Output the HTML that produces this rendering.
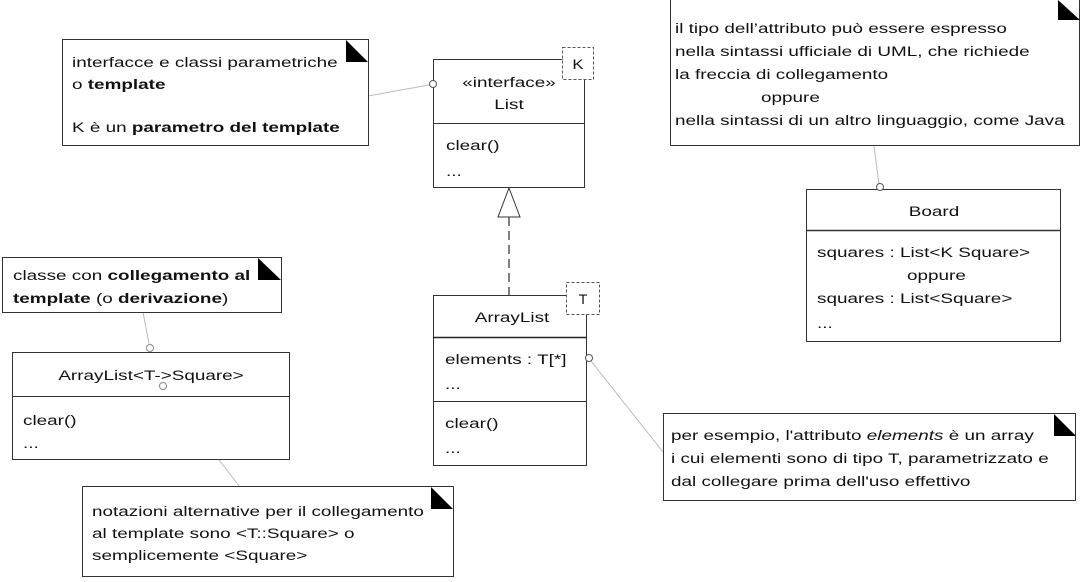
<!DOCTYPE html>
<html><head><meta charset="utf-8"><style>
html,body{margin:0;padding:0;background:#fff;}
svg{display:block;}
text{font-family:"Liberation Sans",sans-serif;font-size:14px;fill:#111;}
.b{font-weight:bold;}
</style></head><body>
<svg width="1080" height="582" viewBox="0 0 1080 582">
<g stroke="#bbb" stroke-width="1" fill="none">
<line x1="368" y1="96" x2="429" y2="85"/>
<line x1="143" y1="312" x2="149" y2="344"/>
<line x1="165" y1="390" x2="240" y2="487"/>
<line x1="591" y1="361" x2="663" y2="452"/>
<line x1="874" y1="146" x2="879" y2="184"/>
</g>
<!-- Note 1 -->
<rect x="62.5" y="39.5" width="306" height="106" fill="#fff" stroke="#333"/>
<polygon points="346,40 368,62 346,62" fill="#000"/>
<text transform="translate(72,67) scale(1.35,1)">interfacce e classi parametriche</text>
<text transform="translate(72,89) scale(1.35,1)">o <tspan class="b">template</tspan></text>
<text transform="translate(72,132) scale(1.35,1)">K è un <tspan class="b">parametro del template</tspan></text>
<!-- List -->
<rect x="433.5" y="59.5" width="151" height="128" fill="#fff" stroke="#333"/>
<line x1="433" y1="123.5" x2="584" y2="123.5" stroke="#333"/>
<rect x="562.5" y="47.5" width="31" height="32" fill="#fff" stroke="#555" stroke-dasharray="3,2"/>
<text x="578" y="69" text-anchor="middle" transform="translate(578,0) scale(1.2,1) translate(-578,0)">K</text>
<text transform="translate(509,87) scale(1.35,1)" text-anchor="middle">«interface»</text>
<text transform="translate(509,109) scale(1.35,1)" text-anchor="middle">List</text>
<text transform="translate(446,150) scale(1.35,1)">clear()</text>
<text transform="translate(446,176) scale(1.35,1)">...</text>
<circle cx="433" cy="84" r="3.5" fill="#fff" stroke="#555"/>
<!-- generalization -->
<polygon points="509,188 498,217 520,217" fill="#fff" stroke="#333"/>
<line x1="509" y1="217" x2="509" y2="295" stroke="#555" stroke-width="1.5" stroke-dasharray="9,5"/>
<!-- ArrayList -->
<rect x="433.5" y="295.5" width="153" height="170" fill="#fff" stroke="#333"/>
<line x1="433" y1="337.5" x2="587" y2="337.5" stroke="#222" stroke-width="1.5"/>
<line x1="433" y1="401.5" x2="587" y2="401.5" stroke="#333"/>
<rect x="566.5" y="282.5" width="33" height="32" fill="#fff" stroke="#555" stroke-dasharray="3,2"/>
<text x="583" y="304" text-anchor="middle">T</text>
<text transform="translate(512,322) scale(1.35,1)" text-anchor="middle">ArrayList</text>
<text transform="translate(445,364) scale(1.35,1)">elements : T[*]</text>
<text transform="translate(445,389) scale(1.35,1)">...</text>
<text transform="translate(445,428) scale(1.35,1)">clear()</text>
<text transform="translate(445,453) scale(1.35,1)">...</text>
<circle cx="589" cy="358" r="3.5" fill="#fff" stroke="#555"/>
<!-- Note 2 -->
<rect x="2.5" y="257.5" width="279" height="55" fill="#fff" stroke="#333"/>
<polygon points="258,258 281,280 258,280" fill="#000"/>
<text transform="translate(13,280) scale(1.35,1)">classe con <tspan class="b">collegamento al</tspan></text>
<text transform="translate(13,303) scale(1.35,1)"><tspan class="b">template</tspan> (o <tspan class="b">derivazione</tspan>)</text>
<!-- ArrayList<T->Square> -->
<rect x="12.5" y="352.5" width="277" height="107" fill="#fff" stroke="#333"/>
<line x1="12" y1="396.5" x2="289" y2="396.5" stroke="#333"/>
<text transform="translate(151,380) scale(1.35,1)" text-anchor="middle">ArrayList&lt;T-&gt;Square&gt;</text>
<text transform="translate(23,425) scale(1.35,1)">clear()</text>
<text transform="translate(23,448) scale(1.35,1)">...</text>
<circle cx="150" cy="348" r="3.5" fill="#fff" stroke="#888"/>
<circle cx="163" cy="386" r="3.5" fill="none" stroke="#888"/>
<!-- Note 3 -->
<rect x="82.5" y="486.5" width="371" height="90" fill="#fff" stroke="#333"/>
<polygon points="431,487 453,509 431,509" fill="#000"/>
<text transform="translate(92,516) scale(1.35,1)">notazioni alternative per il collegamento</text>
<text transform="translate(92,538) scale(1.35,1)">al template sono &lt;T::Square&gt; o</text>
<text transform="translate(92,560) scale(1.35,1)">semplicemente &lt;Square&gt;</text>
<!-- Note TR -->
<rect x="670.5" y="-1" width="409" height="146.5" fill="#fff" stroke="#333"/>
<polygon points="1058,0 1080,20 1058,20" fill="#000"/>
<text transform="translate(675,33) scale(1.35,1)">il tipo dell’attributo può essere espresso</text>
<text transform="translate(675,56) scale(1.35,1)">nella sintassi ufficiale di UML, che richiede</text>
<text transform="translate(675,79) scale(1.35,1)">la freccia di collegamento</text>
<text transform="translate(761,102) scale(1.35,1)">oppure</text>
<text transform="translate(675,125) scale(1.35,1)">nella sintassi di un altro linguaggio, come Java</text>
<!-- Board -->
<rect x="806.5" y="189.5" width="254" height="152" fill="#fff" stroke="#333"/>
<line x1="806" y1="230.5" x2="1060" y2="230.5" stroke="#333" stroke-width="1.5"/>
<text transform="translate(934,216) scale(1.35,1)" text-anchor="middle">Board</text>
<text transform="translate(817,257) scale(1.35,1)">squares : List&lt;K   Square&gt;</text>
<text transform="translate(907,280) scale(1.35,1)">oppure</text>
<text transform="translate(817,303) scale(1.35,1)">squares : List&lt;Square&gt;</text>
<text transform="translate(817,328) scale(1.35,1)">...</text>
<circle cx="880" cy="187" r="3.5" fill="#fff" stroke="#555"/>
<!-- Note right -->
<rect x="663.5" y="413.5" width="412" height="87" fill="#fff" stroke="#333"/>
<polygon points="1054,414 1076,436 1054,436" fill="#000"/>
<text transform="translate(671,440) scale(1.35,1)">per esempio, l'attributo <tspan font-style="italic">elements</tspan> è un array</text>
<text transform="translate(671,463) scale(1.35,1)">i cui elementi sono di tipo T, parametrizzato e</text>
<text transform="translate(671,486) scale(1.35,1)">dal collegare prima dell'uso effettivo</text>
</svg>
</body></html>
